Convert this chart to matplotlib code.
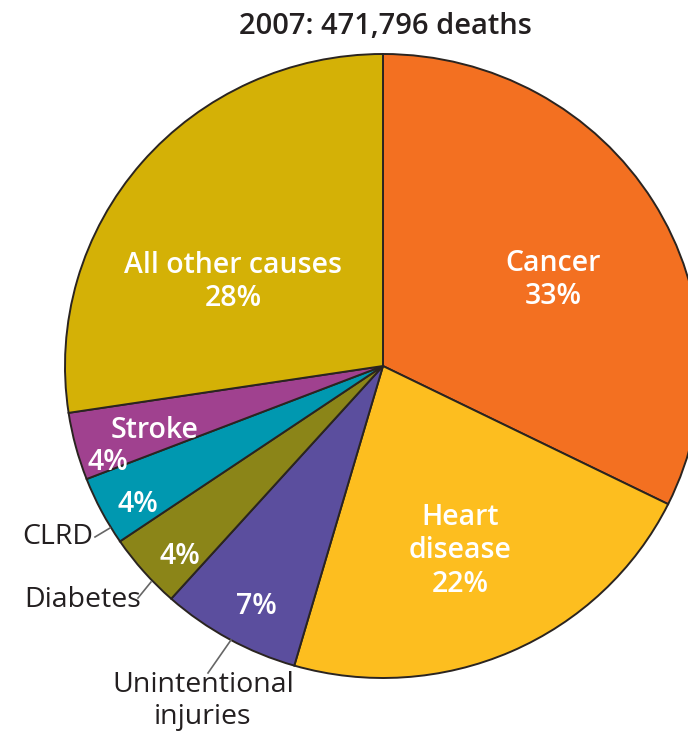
import matplotlib
matplotlib.use("Agg")
import matplotlib.pyplot as plt

# Data
title = "2007: 471,796 deaths"
categories = ["Cancer", "Heart disease", "Unintentional injuries", "Diabetes", "CLRD", "Stroke", "All other causes"]
values = [32.3, 22.2, 7.1, 3.9, 3.6, 3.5, 27.4]
pct_labels = ["33%", "22%", "7%", "4%", "4%", "4%", "28%"]
colors = ["#F37021", "#FDBE1F", "#5B4E9E", "#8B8518", "#0098B0", "#A0418F", "#D4B106"]

W, H = 688, 737
fig = plt.figure(figsize=(W / 100, H / 100), dpi=100)
cx, cy, rx, ry = 383, 366, 318, 312
ax = fig.add_axes([(cx - rx) / W, (H - cy - ry) / H, 2 * rx / W, 2 * ry / H])
ax.pie(values, colors=colors, startangle=90, counterclock=False, radius=1,
       wedgeprops=dict(edgecolor="#2a2420", linewidth=1.4))
ax.set_aspect("auto")
ax.set_xlim(-1, 1)
ax.set_ylim(-1, 1)
ax.axis("off")

FONT = ["Open Sans", "DejaVu Sans"]

def d(px, py):
    return ((px - cx) / rx, (cy - py) / ry)

inner = dict(color="white", fontsize=20.5, fontweight="semibold", family=FONT,
             ha="center", va="center", linespacing=1.2)
ax.text(*d(553, 280), f"{categories[0]}\n{pct_labels[0]}", **inner)
ax.text(*d(233, 282), f"{categories[6]}\n{pct_labels[6]}", **inner)
ax.text(*d(460, 551), f"Heart\ndisease\n{pct_labels[1]}", **inner)
ax.text(*d(155, 430), categories[5], **inner)
ax.text(*d(108, 462), pct_labels[5], **inner)
ax.text(*d(138, 505), pct_labels[4], **inner)
ax.text(*d(180, 557), pct_labels[3], **inner)
ax.text(*d(256, 607), pct_labels[2], **inner)

outer = dict(color="#231f20", fontsize=20.5, family=FONT, va="center")
ax.text(*d(93, 537), categories[4], ha="right", clip_on=False, **outer)
ax.text(*d(141, 600), categories[3], ha="right", clip_on=False, **outer)
ax.text(*d(203, 701), "Unintentional\ninjuries", ha="center", linespacing=1.15,
        clip_on=False, **outer)

lc = "#666666"
for (x0, y0), (x1, y1) in [((95, 537), (110, 528)), ((138, 598), (151, 582)), ((208, 673), (231, 640))]:
    a, b = d(x0, y0), d(x1, y1)
    ax.plot([a[0], b[0]], [a[1], b[1]], color=lc, lw=1.2, clip_on=False)

fig.text(385 / W, 1 - 27 / H, title, ha="center", va="center", fontsize=21,
         fontweight="semibold", family=FONT, color="#231f20")

fig.savefig("out.png", dpi=100)
